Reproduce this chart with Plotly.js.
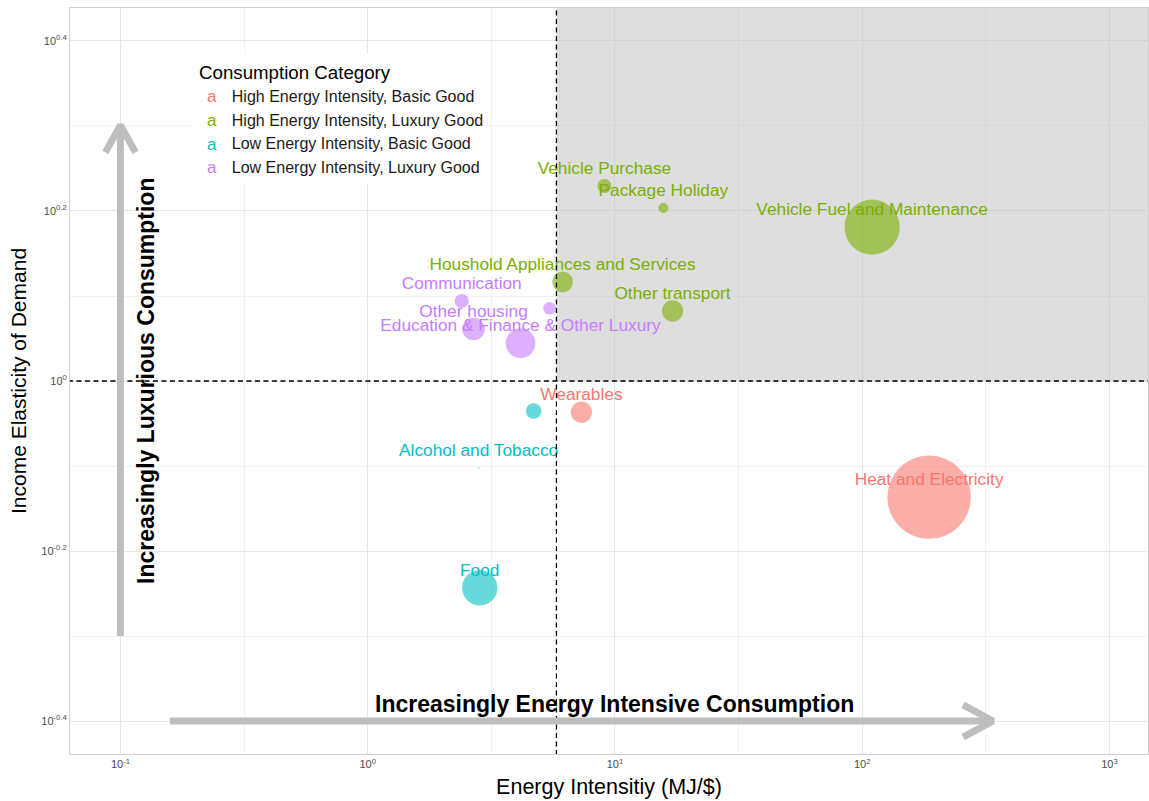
<!DOCTYPE html>
<html>
<head>
<meta charset="utf-8">
<script src="https://cdn.plot.ly/plotly-3.0.1.min.js"></script>
<style>html,body{margin:0;padding:0;background:#fff;}#chart{width:1149px;height:801px;}</style>
</head>
<body>
<div id="chart"></div>
<script>
// ---------------- data ----------------
const labels = ["Vehicle Purchase","Package Holiday","Vehicle Fuel and Maintenance","Houshold Appliances and Services","Other transport","Communication","","Other housing","Education & Finance & Other Luxury","Wearables","","Alcohol and Tobacco","Heat and Electricity","Food"];
const groups = ["HL","HL","HL","HL","HL","LL","LL","LL","LL","HB","LB","LB","HB","LB"];
const energyIntensity = [9.07, 15.7, 109.7, 6.14, 17.1, 2.40, 5.44, 2.68, 4.15, 7.32, 4.69, 2.81, 186.5, 2.84];
const incomeElasticity = [1.696, 1.598, 1.517, 1.308, 1.209, 1.242, 1.218, 1.151, 1.108, 0.919, 0.922, 0.790, 0.730, 0.571];
const expenditureShare = [0.40, 0.20, 6.08, 0.85, 0.90, 0.40, 0.32, 1.02, 1.76, 0.90, 0.48, 0.004, 13.9, 2.5];

const groupKeys = ["HB","HL","LB","LL"];
const groupNames = ["High Energy Intensity, Basic Good","High Energy Intensity, Luxury Good","Low Energy Intensity, Basic Good","Low Energy Intensity, Luxury Good"];

const xTickVals = [0.1, 1, 10, 100, 1000];
const xTickText = ["10<sup>-1</sup>","10<sup>0</sup>","10<sup>1</sup>","10<sup>2</sup>","10<sup>3</sup>"];
const yTickExp = [-0.4, -0.2, 0, 0.2, 0.4];
const yTickText = ["10<sup>-0.4</sup>","10<sup>-0.2</sup>","10<sup>0</sup>","10<sup>0.2</sup>","10<sup>0.4</sup>"];
const xMinorExp = [-0.5, 0.5, 1.5, 2.5];
const yMinorExp = [-0.3, -0.1, 0.1, 0.3];

// reference thresholds
const intensityThreshold = 5.8;
const elasticityThreshold = 1.0;

// arrow guides (log10 units)
const hArrowLogX = [-0.80, 2.529];
const hArrowLogY = -0.4;
const vArrowLogX = -1;
const vArrowLogY = [-0.30, 0.301];

// ---------------- style ----------------
const colors = {HB:"#F8766D", HL:"#7CAE00", LB:"#00BFC4", LL:"#C77CFF"};
const FONT = "Liberation Sans, Arial, Helvetica, sans-serif";
const labelNudge = Math.pow(10, 0.019);
const xRangeLog = [-1.204, 3.156];
const yRangeLog = [-0.4388, 0.4388];

const traces = [];

// grey quadrant (high intensity, luxury)
traces.push({
  x: [intensityThreshold, 1e5, 1e5, intensityThreshold, intensityThreshold],
  y: [elasticityThreshold, elasticityThreshold, 100, 100, elasticityThreshold],
  mode: "lines", fill: "toself", fillcolor: "rgba(190,190,190,0.5)",
  line: {width: 0}, hoverinfo: "skip", showlegend: false
});

// points
groupKeys.forEach(g => {
  const idx = groups.map((v,i)=> v===g ? i : -1).filter(i=>i>=0);
  traces.push({
    x: idx.map(i=>energyIntensity[i]),
    y: idx.map(i=>incomeElasticity[i]),
    mode: "markers", type: "scatter",
    marker: {color: colors[g], opacity: 0.6, size: idx.map(i=>expenditureShare[i]), sizemode: "area", sizeref: 0.004, line: {width: 0}},
    text: idx.map(i=>labels[i]), hoverinfo: "text", showlegend: false
  });
});

// labels (legend entries)
groupKeys.forEach((g, k) => {
  const idx = groups.map((v,i)=> v===g ? i : -1).filter(i=>i>=0);
  traces.push({
    x: idx.map(i=>energyIntensity[i]),
    y: idx.map(i=>incomeElasticity[i]*labelNudge),
    mode: "text", type: "scatter",
    text: idx.map(i=>labels[i]),
    textposition: "middle center",
    textfont: {family: FONT, size: 17.3, color: colors[g]},
    name: groupNames[k], hoverinfo: "skip", showlegend: true, cliponaxis: false
  });
});

// dashed threshold lines
traces.push({x:[intensityThreshold,intensityThreshold], y:[0.01,100], mode:"lines",
  line:{color:"#000", width:1.3, dash:"5px,3.5px"}, hoverinfo:"skip", showlegend:false});
traces.push({x:[0.001,1e5], y:[elasticityThreshold,elasticityThreshold], mode:"lines",
  line:{color:"#000", width:1.3, dash:"5px,3.5px"}, hoverinfo:"skip", showlegend:false});

// arrows
const ARROW = {color:"#BEBEBE", width:7};
const p10 = v => Math.pow(10, v);
traces.push({x: hArrowLogX.map(p10), y: [p10(hArrowLogY), p10(hArrowLogY)], mode:"lines", line:ARROW, hoverinfo:"skip", showlegend:false});
traces.push({x: [p10(hArrowLogX[1]-0.121), p10(hArrowLogX[1]), p10(hArrowLogX[1]-0.121)],
  y: [p10(hArrowLogY+0.019), p10(hArrowLogY), p10(hArrowLogY-0.019)], mode:"lines", line:ARROW, hoverinfo:"skip", showlegend:false});
traces.push({x: [p10(vArrowLogX), p10(vArrowLogX)], y: vArrowLogY.map(p10), mode:"lines", line:ARROW, hoverinfo:"skip", showlegend:false});
traces.push({x: [p10(vArrowLogX-0.061), p10(vArrowLogX), p10(vArrowLogX+0.061)],
  y: [p10(vArrowLogY[1]-0.032), p10(vArrowLogY[1]), p10(vArrowLogY[1]-0.032)], mode:"lines", line:ARROW, hoverinfo:"skip", showlegend:false});

const layout = {
  width: 1149, height: 801,
  margin: {l: 70, r: 1, t: 8, b: 47},
  paper_bgcolor: "#fff", plot_bgcolor: "#fff",
  font: {family: FONT, color: "#000"},
  showlegend: true,
  legend: {
    x: 0.113, y: 0.938, xanchor: "left", yanchor: "top",
    bgcolor: "#fff", borderwidth: 0,
    title: {text: "&nbsp;Consumption Category", font: {size: 18.7, color: "#000"}},
    font: {size: 16, color: "#1a1a1a"},
    traceorder: "normal"
  },
  xaxis: {
    type: "log", range: xRangeLog,
    tickmode: "array", tickvals: xTickVals, ticktext: xTickText,
    tickfont: {size: 11, color: "#4d4d4d"}, ticks: "",
    showgrid: true, gridcolor: "#e6e6e6", gridwidth: 1,
    minor: {tickmode: "array", tickvals: xMinorExp.map(p10), showgrid: true, gridcolor: "#f1f1f1", gridwidth: 1, ticks: ""},
    zeroline: false, showline: true, mirror: true, linecolor: "#d0d0d0", linewidth: 1,
    title: {text: "Energy Intensitiy (MJ/$)", font: {size: 21.5, color: "#000"}, standoff: 9}
  },
  yaxis: {
    type: "log", range: yRangeLog,
    tickmode: "array", tickvals: yTickExp.map(p10), ticktext: yTickText,
    tickfont: {size: 11, color: "#4d4d4d"}, ticks: "",
    showgrid: true, gridcolor: "#e6e6e6", gridwidth: 1,
    minor: {tickmode: "array", tickvals: yMinorExp.map(p10), showgrid: true, gridcolor: "#f1f1f1", gridwidth: 1, ticks: ""},
    zeroline: false, showline: true, mirror: true, linecolor: "#d0d0d0", linewidth: 1,
    title: {text: "Income Elasticity of Demand", font: {size: 21, color: "#000"}, standoff: 8}
  },
  annotations: [
    {xref: "x", yref: "y", x: 0.998, y: -0.38, text: "<b>Increasingly Energy Intensive Consumption</b>",
     showarrow: false, font: {family: FONT, size: 23, color: "#000"}, xanchor: "center", yanchor: "middle"},
    {xref: "x", yref: "y", x: -0.897, y: 0.0, text: "<b>Increasingly Luxurious Consumption</b>", textangle: -90,
     showarrow: false, font: {family: FONT, size: 23, color: "#000"}, xanchor: "center", yanchor: "middle"}
  ]
};

Plotly.newPlot("chart", traces, layout, {displayModeBar: false, staticPlot: true}).then(gd => {
  // ggplot-style legend key: a single "a" glyph aligned with the entry text
  gd.querySelectorAll(".legend .legendpoints text").forEach(t => {
    t.textContent = "a";
    t.style.fontSize = "17px";
    const tr = t.getAttribute("transform") || "";
    t.setAttribute("transform", "translate(0,4) " + tr);
  });
});
</script>
</body>
</html>
